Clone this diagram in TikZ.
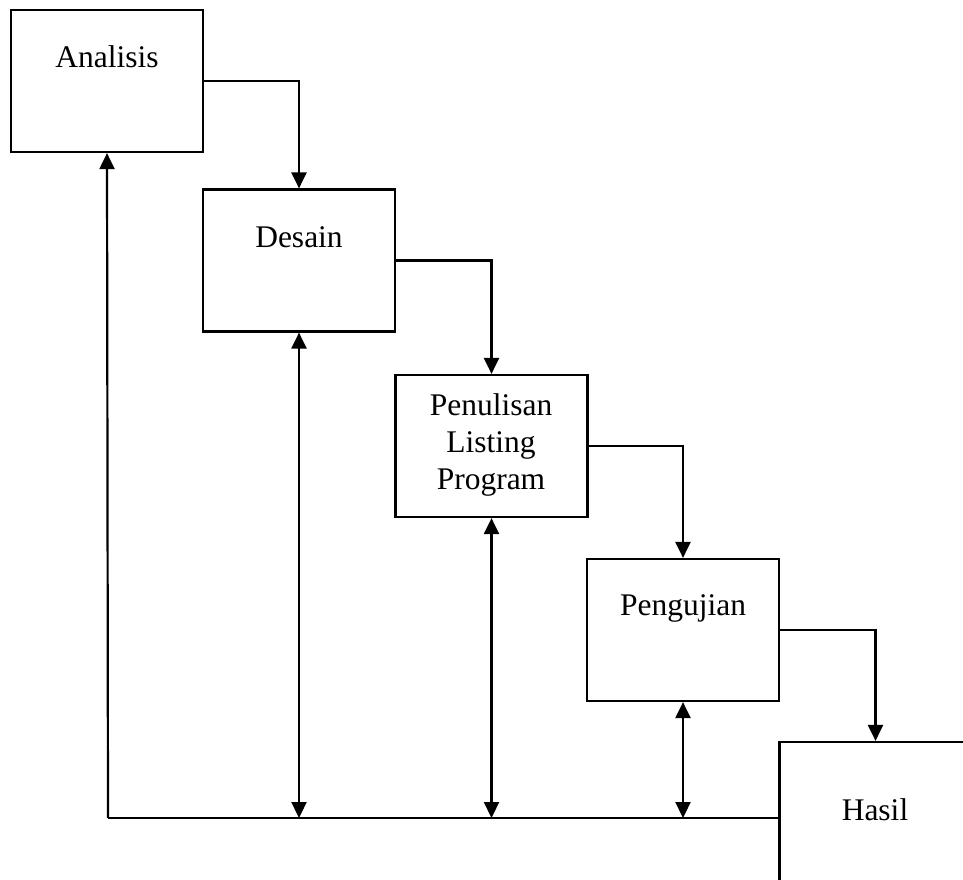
\documentclass[tikz,border=0pt]{standalone}
\usepackage{fontspec}
\setmainfont{Liberation Serif}
\usetikzlibrary{arrows.meta}
\begin{document}
\begin{tikzpicture}[x=1pt,y=-1pt,
  box/.style={draw,line width=2.2pt,minimum width=192pt,minimum height=142pt,inner sep=0pt},
  lbl/.style={font=\fontsize{31.5}{37}\selectfont,inner sep=0pt,align=center},
  conn/.style={line width=2.2pt},
  arr/.style={conn,-{Triangle[length=16pt,width=15pt]}},
  darr/.style={conn,{Triangle[length=16pt,width=15pt]}-{Triangle[length=16pt,width=15pt]}}]
\useasboundingbox (0,0) rectangle (963,879);
\clip (0,0) rectangle (963,879);
\node[box] (ana) at (107,81) {};
\node[box] (des) at (299,260.5) {};
\node[box] (pen) at (491.5,446) {};
\node[box] (peng) at (683,630) {};
\node[box] (has) at (875.5,813) {};
\node[lbl,anchor=base] (tana) at (107,67) {Analisis};
\node[lbl,anchor=base] (tdes) at (299,247) {Desain};
\node[lbl] (tpen) at (491,445) {Penulisan\\Listing\\Program};
\node[lbl,anchor=base] (tpeng) at (683,615) {Pengujian};
\node[lbl,anchor=base] (thas) at (875,820) {Hasil};
\coordinate (bl) at (108,818);
\draw[arr] (ana.east) -| (des.north);
\draw[arr] (des.east) -| (pen.north);
\draw[arr] (pen.east) -| (peng.north);
\draw[arr] (peng.east) -| (has.north);
\draw[arr] (bl) -- (ana.south);
\draw[conn] (bl) -- (bl -| has.west);
\draw[darr] (des.south) -- (des.south |- bl);
\draw[darr] (pen.south) -- (pen.south |- bl);
\draw[darr] (peng.south) -- (peng.south |- bl);
\end{tikzpicture}
\end{document}
